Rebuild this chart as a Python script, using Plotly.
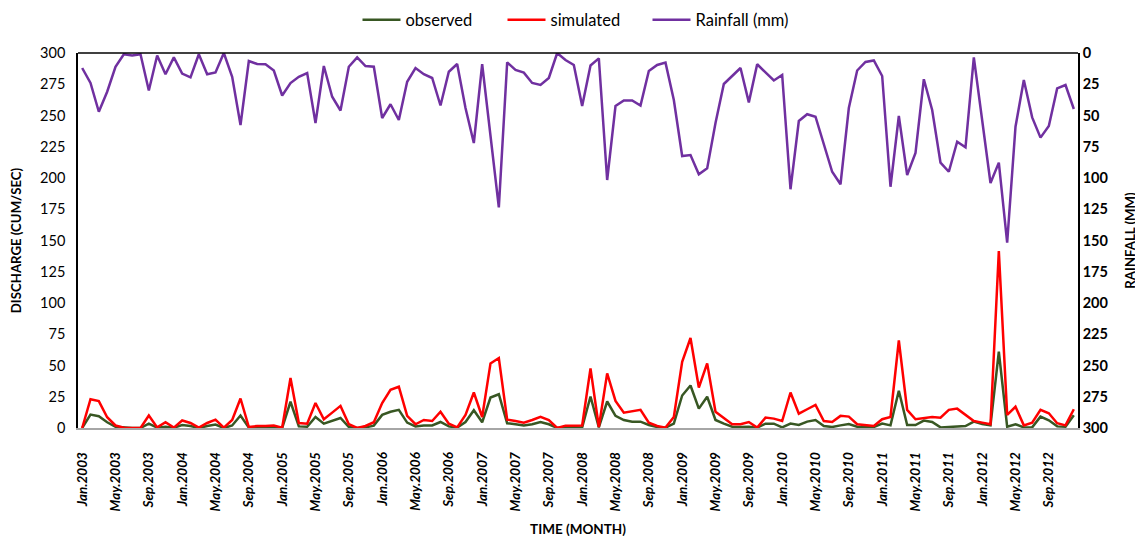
import plotly.graph_objects as go

month_names = ["Jan", "Feb", "Mar", "Apr", "May", "Jun", "Jul", "Aug", "Sep", "Oct", "Nov", "Dec"]
years = list(range(2003, 2013))
months = [f"{m}.{y}" for y in years for m in month_names]
tick_labels = months[::4]

observed = [0, 10.7, 9.4, 4.6, 1, 0.2, 0, 0, 3.5, 0.3, 1, 0.2,
            2.4, 1.6, 0, 1.6, 2.7, 0, 2, 10, 0.3, 0.5, 0.5, 0.5,
            0, 21, 1.3, 1, 8.8, 3.5, 5.6, 8, 0.8, 0, 0.5, 1.9,
            10.5, 13, 14.5, 4.3, 1.3, 2, 2, 4.8, 1.3, 0.3, 4.8, 14.2,
            4.6, 24.4, 27, 3.8, 3, 2, 3, 4.8, 3, 0, 0.8, 0.8,
            0.5, 25.2, 0.5, 21.2, 9.7, 6.4, 5.1, 5.1, 2.4, 0.8, 0.3, 3.5,
            26, 34, 15.5, 25, 6.4, 3.5, 1, 0.8, 1, 0.3, 3.5, 3.5,
            0.5, 3.5, 2.4, 5.1, 6.4, 1.6, 0.8, 2.1, 3.2, 1, 0.8, 0.8,
            3.5, 2.1, 29.8, 2.4, 2.4, 5.9, 4.8, 0.5, 0.8, 1.3, 1.6, 5.1,
            3.2, 2.1, 61, 1, 3, 0.5, 0.5, 9.1, 6.2, 1.3, 1, 10.2]

simulated = [0, 23, 21.5, 8.6, 2, 0.3, 0, 0, 10, 0.5, 4.6, 0.3,
             6, 4, 0.3, 4, 6.7, 0.3, 6.4, 23.6, 0.8, 1.6, 1.6, 2,
             0.3, 40, 4, 3.5, 20, 7, 12.3, 17.7, 3, 0, 1.6, 4.6,
             20, 30.6, 33, 9.7, 3, 6.4, 5.6, 13, 3.5, 0.5, 10.5, 28.4,
             8.8, 51.7, 56, 6.7, 5.6, 4.3, 6.4, 9, 6.4, 0, 1.9, 1.9,
             2, 47.7, 0.8, 43.7, 21.7, 12.3, 13.7, 14.5, 4.3, 1.6, 0.3, 8.8,
             53, 72, 32.4, 51.7, 13, 7.8, 3, 3, 4.8, 0.3, 8.3, 7.5,
             5.6, 28.4, 11.5, 15, 18.5, 5.6, 4.8, 9.7, 9.1, 3, 2.1, 1.6,
             7, 8.8, 70, 14.5, 7, 8, 8.8, 8.3, 14.5, 15.5, 10.5, 5.6,
             4.3, 3, 141.5, 10.5, 17, 2.1, 4.3, 14.5, 11.8, 3.8, 2.1, 15]

rainfall = [12, 24, 47, 31, 11, 1, 2, 1, 30, 2, 17, 3.5,
            16.5, 19.5, 1, 17, 15.5, 0, 19, 57.6, 6.4, 8.8, 9, 14,
            34, 24, 19, 16, 56, 10.4, 35, 46, 11, 3.5, 10.4, 11,
            52, 41, 53.6, 23, 12, 17, 20, 42, 15, 8.8, 44, 72,
            9, 66, 123.5, 7.5, 13.6, 15.7, 24, 25.6, 20, 0, 5.6, 9.6,
            42.4, 10, 4.3, 101.6, 42.4, 38, 38, 42, 14.4, 9.6, 7.7, 37.6,
            82.4, 81.6, 97, 92.3, 56, 24.8, 18, 12, 39.5, 9, 15.5, 22,
            17.6, 109, 54.4, 49, 51, 73.6, 95, 105, 44, 14, 7.2, 6,
            18.4, 107, 50.4, 97.6, 80, 21, 45.6, 87.7, 95, 71, 75.5, 3.5,
            55.7, 104, 87.7, 151.7, 59, 21.6, 51.5, 67.7, 58.4, 28.3, 25.6, 44.8]

FONT = "Lato, 'Liberation Sans', sans-serif"

fig = go.Figure()
fig.add_trace(go.Scatter(x=months, y=observed, name="observed", mode="lines",
                         line=dict(color="#385723", width=2.5)))
fig.add_trace(go.Scatter(x=months, y=simulated, name="simulated", mode="lines",
                         line=dict(color="#FF0000", width=2.5)))
fig.add_trace(go.Scatter(x=months, y=rainfall, name="Rainfall (mm)", mode="lines",
                         line=dict(color="#7030A0", width=2.5), yaxis="y2"))

fig.update_layout(
    width=1143, height=536,
    margin=dict(l=70, r=73, t=45, b=116, autoexpand=False),
    paper_bgcolor="white", plot_bgcolor="white",
    font=dict(family=FONT, color="black"),
    showlegend=True,
    legend=dict(orientation="h", x=0.497, xanchor="center", y=1.088, yanchor="middle",
                yref="paper", font=dict(size=16.5, family=FONT), itemwidth=38,
                entrywidth=92, entrywidthmode="pixels"),
    xaxis=dict(
        type="category", categoryorder="array", categoryarray=months,
        range=[-0.5, len(months) - 0.5],
        tickmode="array", tickvals=tick_labels, ticktext=tick_labels,
        tickangle=-90, showgrid=False, zeroline=False,
        showline=True, linecolor="#A6A6A6", linewidth=1.5,
        ticks="outside", ticklen=17, tickcolor="rgba(0,0,0,0)", automargin=False,
        tickfont=dict(size=13.5, family=FONT, weight="bold", style="italic"),
        title=dict(text="TIME (MONTH)", font=dict(size=13.5, family=FONT, weight="bold"), standoff=14),
    ),
    yaxis=dict(
        range=[0, 300], tickmode="linear", tick0=0, dtick=25,
        showgrid=False, zeroline=False, automargin=False,
        showline=True, linecolor="black", linewidth=1.5,
        ticks="outside", ticklen=8, tickcolor="rgba(0,0,0,0)",
        tickfont=dict(size=14.5, family=FONT),
        title=dict(text="DISCHARGE (CUM/SEC)", font=dict(size=13.2, family=FONT, weight="bold"), standoff=16),
    ),
    yaxis2=dict(
        overlaying="y", side="right",
        range=[300, 0], tickmode="linear", tick0=0, dtick=25,
        showgrid=False, zeroline=False, automargin=False,
        showline=True, linecolor="black", linewidth=1.5, ticks="",
        tickfont=dict(size=14.5, family=FONT, weight="bold"),
        title=dict(text="RAINFALL (MM)", font=dict(size=13.2, family=FONT, weight="bold"), standoff=18),
    ),
    shapes=[dict(type="line", xref="paper", yref="paper", x0=0, x1=1, y0=1, y1=1,
                 line=dict(color="black", width=1.5))],
)

fig.write_html("out.html")
